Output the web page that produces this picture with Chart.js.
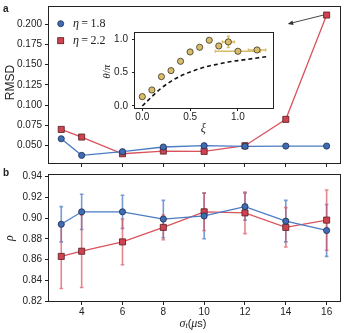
<!DOCTYPE html>
<html lang="en">
<head>
<meta charset="UTF-8">
<title>RMSD and rho vs sigma_t</title>
<script src="https://cdn.jsdelivr.net/npm/chart.js"></script>
<style>
    body { margin: 0; background: #fff; }
    .wrap { position: relative; width: 345px; height: 333px; }
    canvas { position: absolute; }
    #chartA { left: 0; top: 0; }
    #chartB { left: 0; top: 165px; }
    #inset { left: 95px; top: 28px; }
</style>
</head>
<body>
<div class="wrap">
    <canvas id="chartA" width="345" height="170"></canvas>
    <canvas id="chartB" width="345" height="168"></canvas>
    <canvas id="inset" width="185" height="108"></canvas>
</div>
<script>
// ---- data ----
const sigmaT = [3, 4, 6, 8, 10, 12, 14, 16];
const xTicks = [4, 6, 8, 10, 12, 14, 16];

const rmsdEta18 = [0.0586, 0.0381, 0.0426, 0.0484, 0.0500, 0.0492, 0.0496, 0.0496];
const rmsdEta22 = [0.0701, 0.0607, 0.0401, 0.0434, 0.0430, 0.0500, 0.0825, 0.2111];
const rmsdTicks = [0.050, 0.075, 0.100, 0.125, 0.150, 0.175, 0.200];

const rhoEta18 = [0.894, 0.906, 0.906, 0.899, 0.902, 0.911, 0.897, 0.888];
const rhoErr18 = [0.017, 0.017, 0.016, 0.018, 0.022, 0.013, 0.020, 0.025];
const rhoEta22 = [0.863, 0.868, 0.877, 0.891, 0.906, 0.905, 0.891, 0.898];
const rhoErr22 = [0.031, 0.035, 0.022, 0.012, 0.018, 0.020, 0.019, 0.029];
const rhoTicks = [0.82, 0.84, 0.86, 0.88, 0.90, 0.92, 0.94];

const xi = [0.0, 0.1, 0.2, 0.3, 0.4, 0.5, 0.6, 0.7, 0.8, 0.9, 1.0, 1.2];
const thetaOverPi = [0.14, 0.24, 0.44, 0.53, 0.67, 0.81, 0.88, 0.985, 0.90, 0.96, 0.82, 0.84];
const xiErr = [0, 0, 0, 0, 0, 0, 0, 0, 0, 0.063, 0.236, 0.09];
const thetaErr = [0, 0, 0, 0, 0, 0, 0, 0, 0, 0.085, 0, 0];
const theoryXi = [0.0, 0.1, 0.2, 0.3, 0.4, 0.5, 0.6, 0.7, 0.8, 0.9, 1.0, 1.1, 1.2, 1.3];
const theoryTheta = [0.0, 0.14, 0.27, 0.37, 0.45, 0.51, 0.56, 0.60, 0.63, 0.66, 0.68, 0.70, 0.72, 0.74];
const insetTicks = [0.0, 0.5, 1.0];

// ---- styles ----
const BLUE_LINE = '#4a7bc4', BLUE_FILL = '#3f6cb3', BLUE_EDGE = '#1d2d52';
const RED_LINE = '#d9535d', RED_FILL = '#cf4350', RED_EDGE = '#551a20';
const GOLD = '#d6bc6b', GOLD_EDGE = '#3d3522';
const INK = '#222';
const SANS = '"Liberation Sans", Arial, sans-serif';
const SERIF = '"Liberation Serif", "Times New Roman", serif';

const pts = (xs, ys) => xs.map((x, i) => ({ x: x, y: ys[i] }));

function fixAxis(size) {
    return axis => {
        if (axis.isHorizontal()) axis.height = size; else axis.width = size;
        axis.paddingTop = axis.paddingBottom = axis.paddingLeft = axis.paddingRight = 0;
    };
}
const setTicks = arr => scale => { scale.ticks = arr.map(v => ({ value: v })); };

function axisOpts(min, max, ticks, size, tickLen, pad, fmt, showLabels) {
    return {
        type: 'linear', min: min, max: max,
        afterBuildTicks: setTicks(ticks),
        afterFit: fixAxis(size),
        border: { display: false },
        grid: { drawOnChartArea: false, drawTicks: true, tickLength: tickLen, tickColor: INK, lineWidth: 1 },
        ticks: { display: showLabels, autoSkip: false, maxRotation: 0, padding: pad, color: INK,
                 font: { family: SANS, size: 10 }, callback: fmt }
    };
}

// frame around chart area, optional white fill
function frame(fill) {
    return {
        id: 'frame',
        beforeDraw(chart) {
            if (!fill) return;
            const a = chart.chartArea;
            chart.ctx.save();
            chart.ctx.fillStyle = '#fff';
            chart.ctx.fillRect(a.left, a.top, a.right - a.left, a.bottom - a.top);
            chart.ctx.restore();
        },
        afterDraw(chart) {
            const a = chart.chartArea, ctx = chart.ctx;
            ctx.save();
            ctx.strokeStyle = INK;
            ctx.lineWidth = 1;
            ctx.strokeRect(Math.round(a.left) - 0.5, Math.round(a.top) - 0.5,
                Math.round(a.right - a.left) + 1, Math.round(a.bottom - a.top) + 1);
            ctx.restore();
        }
    };
}

// error bars drawn under the markers
function errorBars(sets) {
    return {
        id: 'errorBars',
        beforeDatasetsDraw(chart) {
            const ctx = chart.ctx, xs = chart.scales.x, ys = chart.scales.y;
            sets.forEach(s => {
                ctx.save();
                ctx.strokeStyle = s.color;
                ctx.lineWidth = s.width;
                s.x.forEach((xv, i) => {
                    const px = xs.getPixelForValue(xv), py = ys.getPixelForValue(s.y[i]);
                    const cap = s.cap;
                    ctx.beginPath();
                    if (s.ey && s.ey[i]) {
                        const y1 = ys.getPixelForValue(s.y[i] - s.ey[i]);
                        const y2 = ys.getPixelForValue(s.y[i] + s.ey[i]);
                        ctx.moveTo(px, y1); ctx.lineTo(px, y2);
                        ctx.moveTo(px - cap, y1); ctx.lineTo(px + cap, y1);
                        ctx.moveTo(px - cap, y2); ctx.lineTo(px + cap, y2);
                    }
                    if (s.ex && s.ex[i]) {
                        const x1 = xs.getPixelForValue(xv - s.ex[i]);
                        const x2 = xs.getPixelForValue(xv + s.ex[i]);
                        ctx.moveTo(x1, py); ctx.lineTo(x2, py);
                        ctx.moveTo(x1, py - cap); ctx.lineTo(x1, py + cap);
                        ctx.moveTo(x2, py - cap); ctx.lineTo(x2, py + cap);
                    }
                    ctx.stroke();
                });
                ctx.restore();
            });
        }
    };
}

// draw text made of several font runs
function runs(ctx, parts, x, y, align) {
    let w = 0;
    parts.forEach(p => { ctx.font = p.f; w += ctx.measureText(p.t).width; });
    let cx = align === 'center' ? x - w / 2 : x;
    ctx.textAlign = 'left';
    ctx.textBaseline = 'middle';
    parts.forEach(p => {
        ctx.font = p.f;
        ctx.fillText(p.t, cx, y + (p.dy || 0));
        cx += ctx.measureText(p.t).width;
    });
}

function decor(fn) {
    return { id: 'decor', afterDraw(chart) { const ctx = chart.ctx; ctx.save(); ctx.fillStyle = INK; fn(chart, ctx); ctx.restore(); } };
}

const lineSet = (label, data, line, fill, edge, style, r) => ({
    label: label, data: data, borderColor: line, borderWidth: 1.3,
    pointStyle: style, pointRadius: r, pointBackgroundColor: fill,
    pointBorderColor: edge, pointBorderWidth: 0.8, tension: 0
});

const common = {
    responsive: false, animation: false,
    plugins: { legend: { display: false }, tooltip: { enabled: false } }
};

// ---- panel a ----
new Chart(document.getElementById('chartA'), {
    type: 'line',
    data: { datasets: [
        lineSet('η = 1.8', pts(sigmaT, rmsdEta18), BLUE_LINE, BLUE_FILL, BLUE_EDGE, 'circle', 3.1),
        lineSet('η = 2.2', pts(sigmaT, rmsdEta22), RED_LINE, RED_FILL, RED_EDGE, 'rect', 4.3)
    ] },
    options: Object.assign({}, common, {
        layout: { padding: { top: 7, right: 4, left: 0, bottom: 0 } },
        scales: {
            x: axisOpts(2.4, 16.65, xTicks, 7, 4, 1, v => v, false),
            y: axisOpts(0.0287, 0.221, rmsdTicks, 49, 4, 3, v => v.toFixed(3), true)
        }
    }),
    plugins: [frame(false), decor((chart, ctx) => {
        ctx.font = 'bold 10px ' + SANS;
        ctx.textBaseline = 'middle';
        ctx.fillText('a', 3, 9);
        ctx.save();
        ctx.translate(10.5, 82.5);
        ctx.rotate(-Math.PI / 2);
        ctx.textAlign = 'center';
        ctx.font = '12px ' + SANS;
        ctx.fillText('RMSD', 0, 0);
        ctx.restore();
        // legend
        ctx.fillStyle = BLUE_FILL; ctx.strokeStyle = BLUE_EDGE; ctx.lineWidth = 0.8;
        ctx.beginPath(); ctx.arc(60.7, 23.7, 3, 0, Math.PI * 2); ctx.fill(); ctx.stroke();
        ctx.fillStyle = RED_FILL; ctx.strokeStyle = RED_EDGE;
        ctx.fillRect(57.7, 37.7, 6, 6); ctx.strokeRect(57.7, 37.7, 6, 6);
        ctx.fillStyle = INK;
        const labels = chart.data.datasets.map(d => d.label.split(' = ')[1]);
        runs(ctx, [{ t: 'η', f: 'italic 12px ' + SERIF }, { t: '\u2009=\u2009' + labels[0], f: '12px ' + SERIF }], 73, 24, 'left');
        runs(ctx, [{ t: 'η', f: 'italic 12px ' + SERIF }, { t: '\u2009=\u2009' + labels[1], f: '12px ' + SERIF }], 73, 41, 'left');
        // arrow from last red point
        const p = chart.getDatasetMeta(1).data[sigmaT.length - 1];
        const sx = p.x - 3, sy = p.y, ex = p.x - 39, ey = p.y + 9;
        ctx.strokeStyle = '#333'; ctx.fillStyle = '#333'; ctx.lineWidth = 0.9;
        ctx.beginPath(); ctx.moveTo(sx, sy); ctx.lineTo(ex + 4, ey - 1); ctx.stroke();
        const ang = Math.atan2(ey - sy, ex - sx);
        ctx.beginPath();
        ctx.moveTo(ex, ey);
        ctx.lineTo(ex - 6 * Math.cos(ang - 0.4), ey - 6 * Math.sin(ang - 0.4));
        ctx.lineTo(ex - 6 * Math.cos(ang + 0.4), ey - 6 * Math.sin(ang + 0.4));
        ctx.closePath(); ctx.fill();
    })]
});

// ---- panel b ----
new Chart(document.getElementById('chartB'), {
    type: 'line',
    data: { datasets: [
        lineSet('η = 1.8', pts(sigmaT, rhoEta18), BLUE_LINE, BLUE_FILL, BLUE_EDGE, 'circle', 3.1),
        lineSet('η = 2.2', pts(sigmaT, rhoEta22), RED_LINE, RED_FILL, RED_EDGE, 'rect', 4.3)
    ] },
    options: Object.assign({}, common, {
        layout: { padding: { top: 10, right: 4, left: 0, bottom: 0 } },
        scales: {
            x: axisOpts(2.4, 16.65, xTicks, 32, 4, 1, v => v, true),
            y: axisOpts(0.82, 0.9415, rhoTicks, 49, 4, 3, v => v.toFixed(2), true)
        }
    }),
    plugins: [frame(false), errorBars([
        { x: sigmaT, y: rhoEta18, ey: rhoErr18, color: 'rgba(74,123,196,0.75)', width: 1.6, cap: 1.8 },
        { x: sigmaT, y: rhoEta22, ey: rhoErr22, color: 'rgba(217,83,93,0.7)', width: 1.6, cap: 1.8 }
    ]), decor((chart, ctx) => {
        ctx.font = 'bold 10px ' + SANS;
        ctx.textBaseline = 'middle';
        ctx.fillText('b', 3, 8.5);
        ctx.save();
        ctx.translate(9.5, 73);
        ctx.rotate(-Math.PI / 2);
        runs(ctx, [{ t: 'ρ', f: 'italic 12px ' + SERIF }], 0, 0, 'center');
        ctx.restore();
        runs(ctx, [
            { t: 'σ', f: 'italic 12px ' + SERIF },
            { t: 't', f: 'italic 8px ' + SERIF, dy: 2.5 },
            { t: '(', f: '11px ' + SANS },
            { t: 'μ', f: 'italic 12px ' + SERIF },
            { t: 's)', f: '11px ' + SANS }
        ], 193, 158.5, 'center');
    })]
});

// ---- inset ----
new Chart(document.getElementById('inset'), {
    type: 'line',
    data: { datasets: [
        { label: 'theory', data: pts(theoryXi, theoryTheta), borderColor: '#111', borderWidth: 1.6,
          borderDash: [4, 3], pointRadius: 0, cubicInterpolationMode: 'monotone' },
        { label: 'data', data: pts(xi, thetaOverPi), showLine: false, pointStyle: 'circle', pointRadius: 3.1,
          pointBackgroundColor: GOLD, pointBorderColor: GOLD_EDGE, pointBorderWidth: 0.8 }
    ] },
    options: Object.assign({}, common, {
        layout: { padding: { top: 5, right: 7, left: 0, bottom: 0 } },
        scales: {
            x: axisOpts(-0.0765, 1.367, insetTicks, 28, 3, 0, v => v.toFixed(1), true),
            y: axisOpts(-0.03, 1.094, insetTicks, 40, 3, 4, v => v.toFixed(1), true)
        }
    }),
    plugins: [frame(true), errorBars([
        { x: xi, y: thetaOverPi, ex: xiErr, ey: thetaErr, color: GOLD, width: 1.5, cap: 1.5 }
    ]), decor((chart, ctx) => {
        ctx.save();
        ctx.translate(12, 43.7);
        ctx.rotate(-Math.PI / 2);
        runs(ctx, [{ t: 'θ', f: 'italic 11px ' + SERIF }, { t: '/', f: '11px ' + SERIF }, { t: 'π', f: 'italic 11px ' + SERIF }], 0, 0, 'center');
        ctx.restore();
        runs(ctx, [{ t: 'ξ', f: 'italic 12px ' + SERIF }], 108.3, 101.3, 'center');
    })]
});
</script>
</body>
</html>
